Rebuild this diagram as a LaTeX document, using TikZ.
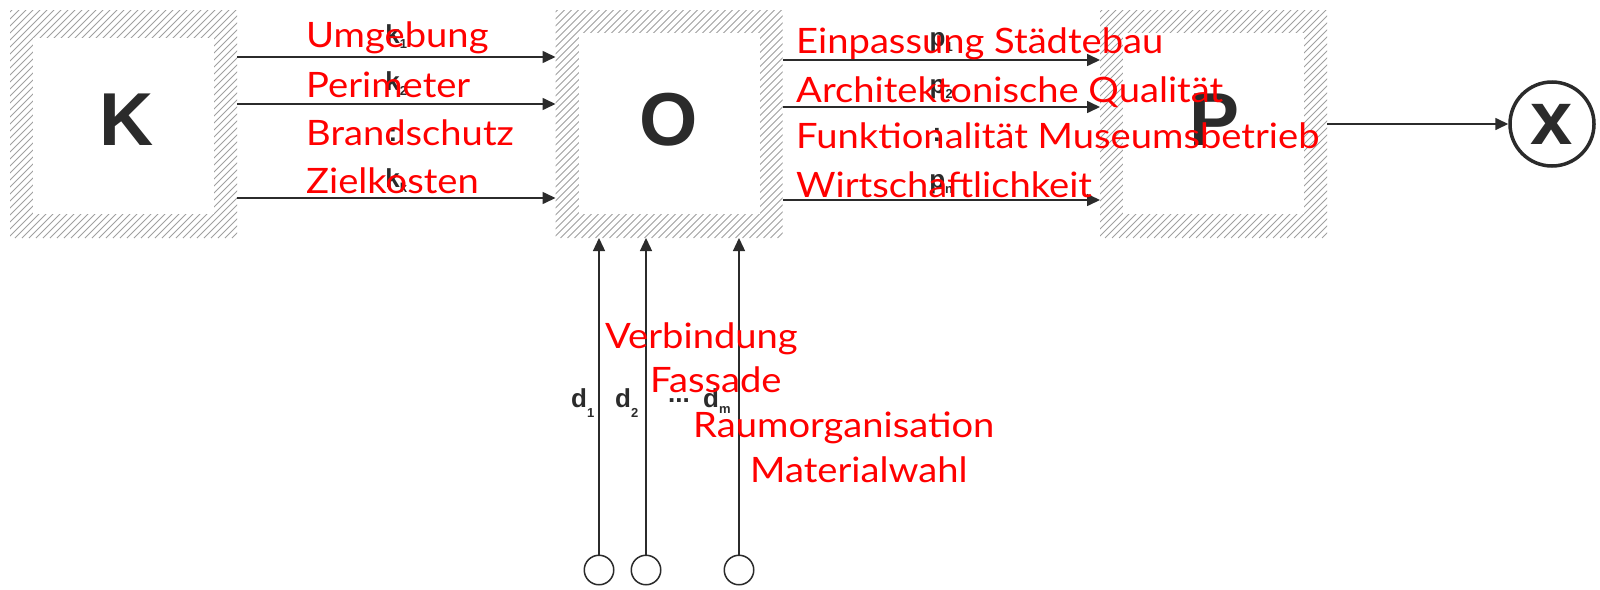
\documentclass[tikz,border=0pt]{standalone}
\usepackage{fontspec}
\setmainfont{Liberation Sans}
\newfontfamily\redf[FakeStretch=1.09]{Lato}
\usetikzlibrary{arrows.meta}
\definecolor{ink}{HTML}{2B2B2B}
\definecolor{hatchgray}{HTML}{A0A0A0}
\definecolor{redtxt}{HTML}{FF0000}
\newcommand{\idx}[2][5pt]{\raisebox{-#1}{\fontsize{13}{13}\selectfont\bfseries #2}}
\tikzset{
  hatchtop/.store in=\hatchtop, hatchtop=23pt,
  hatchbox/.style={minimum width=227pt, minimum height=228pt, inner sep=0pt, outer sep=0pt,
    path picture={
      \foreach \i in {-240,-233,...,240}
        \draw[hatchgray, line width=0.75pt] ([xshift=\i pt]path picture bounding box.south west) -- ++(45:360pt);
      \fill[white] ([shift={(23pt,24pt)}]path picture bounding box.south west) rectangle ([shift={(-23pt,-\hatchtop)}]path picture bounding box.north east);
    }},
  bigletter/.style={font=\fontsize{75}{75}\selectfont\bfseries, text=ink, inner sep=0pt},
  flow/.style={draw=ink, line width=1.6pt, -{Triangle[length=13pt,width=12pt]}},
  vflow/.style={draw=ink, line width=1.3pt, -{Triangle[length=13pt,width=12pt]}},
  klabel/.style={font=\fontsize{26}{26}\selectfont\bfseries, text=ink, inner sep=0pt},
  redlabel/.style={font=\redf\fontsize{35}{35}\selectfont, text=redtxt, inner sep=0pt, anchor=base west},
  smallcirc/.style={circle, draw=ink, line width=1.5pt, minimum size=29.5pt, inner sep=0pt},
  bigcirc/.style={circle, draw=ink, line width=3.5pt, minimum size=84pt, inner sep=0pt,
    font=\fontsize{76}{76}\selectfont\bfseries, text=ink}
}
\begin{document}
\begin{tikzpicture}[x=1pt, y=-1pt]
\useasboundingbox (0,0) rectangle (1600,589);
\fill[white] (0,0) rectangle (1600,589);

% boxes
\node[hatchbox, hatchtop=28pt, label={[bigletter, xshift=3pt, yshift=4pt]center:K}] (K) at (123.5,124) {};
\node[hatchbox, label={[bigletter, yshift=4pt]center:O}] (O) at (669,124) {};
\node[hatchbox, label={[bigletter, xshift=1pt, yshift=4pt]center:P}] (P) at (1213.5,124) {};
\node[bigcirc] (X) at (1552,124) {x};

% K -> O
\draw[flow] ([yshift=67pt]K.east) -- ([yshift=67pt]O.west) node[midway, above=8pt, klabel] {k\idx{1}};
\draw[flow] ([yshift=20pt]K.east) -- ([yshift=20pt]O.west) node[midway, above=8pt, klabel] {k\idx{2}};
\draw[flow] ([yshift=-74pt]K.east) -- ([yshift=-74pt]O.west) node[midway, above=5pt, klabel] {k\idx{k}};
\node[klabel] (kdots) at (393,135) {:};

% O -> P
\draw[flow] ([yshift=64pt]O.east) -- ([yshift=64pt]P.west) node[midway, above=7pt, klabel] {p\idx{1}};
\draw[flow] ([yshift=17pt]O.east) -- ([yshift=17pt]P.west) node[midway, above=7pt, klabel] {p\idx{2}};
\draw[flow] ([yshift=-76pt]O.east) -- ([yshift=-76pt]P.west) node[midway, above=5pt, klabel] {p\idx{n}};
\node[klabel] (pdots) at (937,135) {:};

% P -> X
\draw[flow] (P.east) -- (X.west);

% disturbances
\node[smallcirc] (c1) at (599,570) {};
\node[smallcirc] (c2) at (646,570) {};
\node[smallcirc] (c3) at (739,570) {};
\draw[vflow] (c1) -- (c1 |- O.south);
\draw[vflow] (c2) -- (c2 |- O.south);
\draw[vflow] (c3) -- (c3 |- O.south);
\node[klabel, anchor=base west] (d1) at (571,407) {d\idx[10pt]{1}};
\node[klabel, anchor=base west] (d2) at (615,407) {d\idx[10pt]{2}};
\node[klabel, anchor=base west] (ddots) at (668,402) {...};
\node[klabel, anchor=base west] (dm) at (703,407) {d\idx[6pt]{m}};

% red annotations
\node[redlabel] (r1) at (306,47) {Umgebung};
\node[redlabel] (r2) at (306,97) {Perimeter};
\node[redlabel] (r3) at (306,145) {Brandschutz};
\node[redlabel] (r4) at (306,193) {Zielkosten};
\node[redlabel] (r5) at (796,53) {Einpassung Städtebau};
\node[redlabel] (r6) at (796,102) {Architektonische Qualität};
\node[redlabel] (r7) at (796,148) {Funktionalität Museumsbetrieb};
\node[redlabel] (r8) at (796,197) {Wirtschaftlichkeit};
\node[redlabel] (r9) at (605,348) {Verbindung};
\node[redlabel] (r10) at (650,392) {Fassade};
\node[redlabel] (r11) at (693,437) {Raumorganisation};
\node[redlabel] (r12) at (750,482) {Materialwahl};
\end{tikzpicture}
\end{document}
